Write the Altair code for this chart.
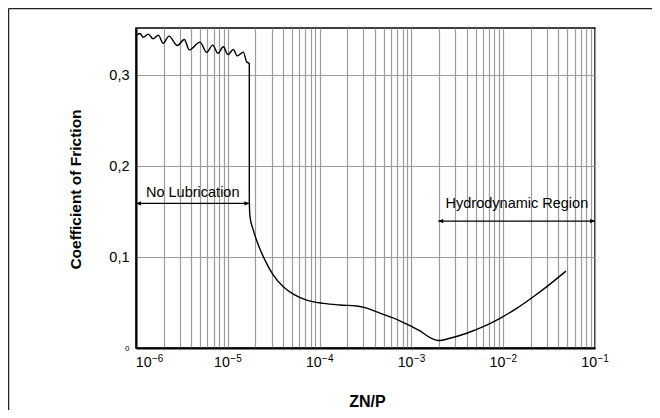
import altair as alt
import pandas as pd

FONT = "Liberation Sans, Arial, sans-serif"

# ---- curve ----
curve_x = [1.0e-6, 1.105e-6, 1.20e-6, 1.36e-6, 1.54e-6, 1.75e-6, 1.98e-6, 2.29e-6,
           2.82e-6, 3.36e-6, 3.81e-6, 4.98e-6, 5.89e-6, 6.85e-6, 7.82e-6, 8.93e-6,
           1.005e-5, 1.148e-5, 1.269e-5, 1.475e-5, 1.607e-5, 1.715e-5,
           1.716e-5, 1.746e-5, 1.897e-5, 2.15e-5, 2.54e-5, 3.13e-5, 4.02e-5, 5.17e-5,
           7.23e-5, 1.097e-4, 1.667e-4, 2.54e-4, 3.26e-4, 4.55e-4, 6.92e-4, 1.05e-3,
           1.24e-3, 1.60e-3, 1.96e-3, 2.63e-3, 4.00e-3, 6.07e-3, 9.23e-3, 1.40e-2,
           2.13e-2, 3.24e-2, 4.83e-2]
curve_y = [0.344, 0.3460, 0.3418, 0.3453, 0.3400, 0.3442, 0.3352, 0.3431,
           0.3327, 0.3394, 0.3279, 0.3365, 0.3253, 0.3332, 0.3242, 0.3313,
           0.3228, 0.3284, 0.3213, 0.3255, 0.3146, 0.3129,
           0.160, 0.1443, 0.1297, 0.1132, 0.0967, 0.0802, 0.0674, 0.0593,
           0.0527, 0.0491, 0.0473, 0.0462, 0.0438, 0.0383, 0.0316, 0.0226,
           0.0188, 0.0113, 0.0082, 0.0107, 0.0162, 0.0234, 0.0326, 0.0436,
           0.0564, 0.0703, 0.0846]

# ---- axes ----
grid_x = [m * 10.0 ** e for e in range(-6, -1) for m in range(1, 10)] + [0.1]
tick_vals = [1e-6, 1e-5, 1e-4, 1e-3, 1e-2, 1e-1]
tick_exps = ["\u22126", "\u22125", "\u22124", "\u22123", "\u22122", "\u22121"]
y_vals = [0, 0.1, 0.2, 0.3]

# ---- annotations ----
ann_text = ["No Lubrication", "Hydrodynamic Region"]
ann_x = [4.15e-6, 1.41e-2]
ann_y = [0.166, 0.154]
arrow_x1 = [1e-6, 1.96e-3]
arrow_x2 = [1.72e-5, 1e-1]
arrow_y = [0.159, 0.1396]

x_scale = alt.Scale(type="log", domain=[1e-6, 1e-1], nice=False)
y_scale = alt.Scale(domain=[0, 0.352], nice=False, zero=False)

GRID = "#9c9c9c"

curve = alt.Chart(pd.DataFrame({"x": curve_x, "y": curve_y})).mark_line(
    color="black", strokeWidth=1.4, interpolate="monotone"
).encode(
    x=alt.X("x:Q", scale=x_scale, axis=alt.Axis(
        values=grid_x, grid=True, labels=False, ticks=False,
        domainColor="black", domainWidth=2,
        gridColor=GRID, gridWidth=1.2,
        title="ZN/P", titleFont=FONT, titleFontSize=16, titleFontWeight="bold",
        titleColor="black", titleX=231, titleY=58, titleBaseline="alphabetic",
        titleAlign="center")),
    y=alt.Y("y:Q", scale=y_scale, axis=alt.Axis(
        values=y_vals, grid=True, ticks=False,
        domainColor="black", domainWidth=2,
        gridColor=GRID, gridWidth=1.2,
        labelExpr="datum.value == 0 ? '0' : replace(format(datum.value, '.1f'), '.', ',')",
        labelFont=FONT, labelColor="black",
        labelFontSize={"condition": {"test": "datum.value == 0", "value": 8}, "value": 14.5},
        labelPadding=7,
        title="Coefficient of Friction", titleFont=FONT, titleFontSize=15.5,
        titleFontWeight="bold", titleColor="black", titleAngle=270,
        titleX=-56, titleY=161, titleBaseline="alphabetic", titleAlign="center")),
)

ticks_df = pd.DataFrame({"x": tick_vals, "e": tick_exps})

ten_first = alt.Chart(ticks_df.iloc[:1]).mark_text(
    text="10", align="right", baseline="alphabetic", dx=15.6, font=FONT, fontSize=14.2, color="black"
).encode(x=alt.X("x:Q", scale=x_scale), y=alt.value(339))
exp_first = alt.Chart(ticks_df.iloc[:1]).mark_text(
    align="left", baseline="alphabetic", dx=16, font=FONT, fontSize=10, color="black"
).encode(x=alt.X("x:Q", scale=x_scale), y=alt.value(334), text="e:N")
ten_rest = alt.Chart(ticks_df.iloc[1:]).mark_text(
    text="10", align="right", baseline="alphabetic", dx=2.1, font=FONT, fontSize=14.2, color="black"
).encode(x=alt.X("x:Q", scale=x_scale), y=alt.value(339))
exp_rest = alt.Chart(ticks_df.iloc[1:]).mark_text(
    align="left", baseline="alphabetic", dx=2.5, font=FONT, fontSize=10, color="black"
).encode(x=alt.X("x:Q", scale=x_scale), y=alt.value(334), text="e:N")

arr_df = pd.DataFrame({"x": arrow_x1, "x2": arrow_x2, "y": arrow_y})
arrow_lines = alt.Chart(arr_df).mark_rule(color="black", strokeWidth=1.3).encode(
    x=alt.X("x:Q", scale=x_scale), x2="x2:Q", y=alt.Y("y:Q", scale=y_scale))
head_left = alt.Chart(arr_df).mark_point(
    shape="M0,0L1,-0.42L1,0.42Z", filled=True, size=100, color="black", opacity=1, strokeWidth=0
).encode(x=alt.X("x:Q", scale=x_scale), y=alt.Y("y:Q", scale=y_scale))
head_right = alt.Chart(arr_df).mark_point(
    shape="M0,0L-1,-0.42L-1,0.42Z", filled=True, size=100, color="black", opacity=1, strokeWidth=0
).encode(x=alt.X("x2:Q", scale=x_scale), y=alt.Y("y:Q", scale=y_scale))

ann = alt.Chart(pd.DataFrame({"x": ann_x, "y": ann_y, "t": ann_text})).mark_text(
    align="center", baseline="alphabetic", font=FONT, fontSize=14.5, color="black"
).encode(x=alt.X("x:Q", scale=x_scale), y=alt.Y("y:Q", scale=y_scale), text="t:N")

one = pd.DataFrame({"a": [0]})
frame_top = alt.Chart(one).mark_rule(color="#222222", strokeWidth=1.5).encode(
    x=alt.value(-127.5), x2=alt.value(520), y=alt.value(-19.5))
frame_left = alt.Chart(one).mark_rule(color="#222222", strokeWidth=1.5).encode(
    x=alt.value(-127.5), y=alt.value(-19.5), y2=alt.value(400))

chart = alt.layer(
    curve, arrow_lines, head_left, head_right, ann,
    ten_first, exp_first, ten_rest, exp_rest, frame_top, frame_left
).properties(
    width=459, height=320,
    padding={"left": 128, "top": 20, "right": 57, "bottom": 62},
    autosize="none",
).configure_view(stroke="black", strokeWidth=1.5)

chart.save("out.html", embed_options={"renderer": "svg", "actions": False})
